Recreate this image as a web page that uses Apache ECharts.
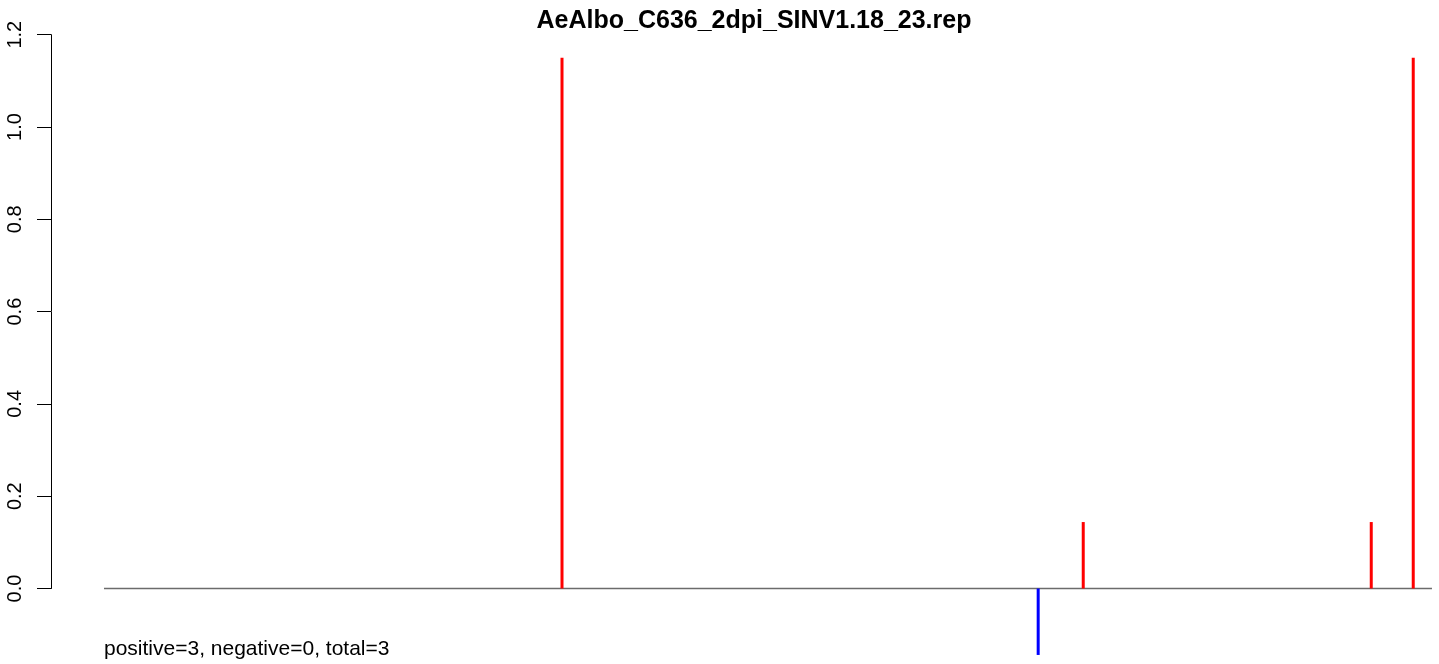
<!DOCTYPE html>
<html>
<head>
<meta charset="utf-8">
<script src="https://cdn.jsdelivr.net/npm/echarts@6/dist/echarts.min.js"></script>
<style>
html,body{margin:0;padding:0;background:#fff;}
#chart{width:1439px;height:664px;}
</style>
</head>
<body>
<div id="chart"></div>
<script>
// ---- data ----
const titleText = 'AeAlbo_C636_2dpi_SINV1.18_23.rep';
const noteText = 'positive=3, negative=0, total=3';
const genomeStart = 1;
const genomeEnd = 11703;
const posPositions = [4037, 8630, 11168, 11538];
const posValues = [1.15, 0.144, 0.144, 1.15];
const negPositions = [8233];
const negValues = [-0.144];
const yTicks = [0, 0.2, 0.4, 0.6, 0.8, 1.0, 1.2];

const FONT = "'Liberation Sans', Arial, Helvetica, sans-serif";

const series = [];
series.push({
  type: 'line',
  data: [[genomeStart, 0], [genomeEnd, 0]],
  symbol: 'none',
  silent: true,
  lineStyle: { color: '#6b6b6b', width: 1.3 },
  clip: false,
  z: 1
});
function addSeg(x, v, color) {
  series.push({
    type: 'line',
    data: [[x, 0], [x, v]],
    symbol: 'none',
    silent: true,
    lineStyle: { color: color, width: 3, cap: 'butt' },
    clip: false,
    z: 2
  });
}
posPositions.forEach((x, i) => addSeg(x, posValues[i], '#ff0000'));
negPositions.forEach((x, i) => addSeg(x, negValues[i], '#0000ff'));

const chart = echarts.init(document.getElementById('chart'), null, { renderer: 'canvas' });
chart.setOption({
  animation: false,
  backgroundColor: '#ffffff',
  grid: { left: 51, right: 0, top: 34.7, bottom: 75.5, containLabel: false },
  xAxis: {
    type: 'value',
    min: -466,
    max: 11765,
    show: false
  },
  yAxis: {
    type: 'value',
    min: yTicks[0],
    max: yTicks[yTicks.length - 1],
    interval: 0.2,
    axisLine: { show: true, onZero: false, lineStyle: { color: '#000', width: 1 } },
    axisTick: { show: true, length: 14, lineStyle: { color: '#000', width: 1 } },
    splitLine: { show: false },
    axisLabel: {
      rotate: 90,
      margin: 26,
      fontSize: 20,
      color: '#000',
      fontFamily: FONT,
      formatter: v => v.toFixed(1)
    }
  },
  graphic: [
    {
      type: 'text',
      x: 754, y: 21,
      style: {
        text: titleText,
        font: 'bold 25px ' + FONT,
        fill: '#000',
        textAlign: 'center',
        textVerticalAlign: 'middle'
      }
    },
    {
      type: 'text',
      x: 104, y: 649,
      style: {
        text: noteText,
        font: '21px ' + FONT,
        fill: '#000',
        textAlign: 'left',
        textVerticalAlign: 'middle'
      }
    }
  ],
  series: series
});
</script>
</body>
</html>
